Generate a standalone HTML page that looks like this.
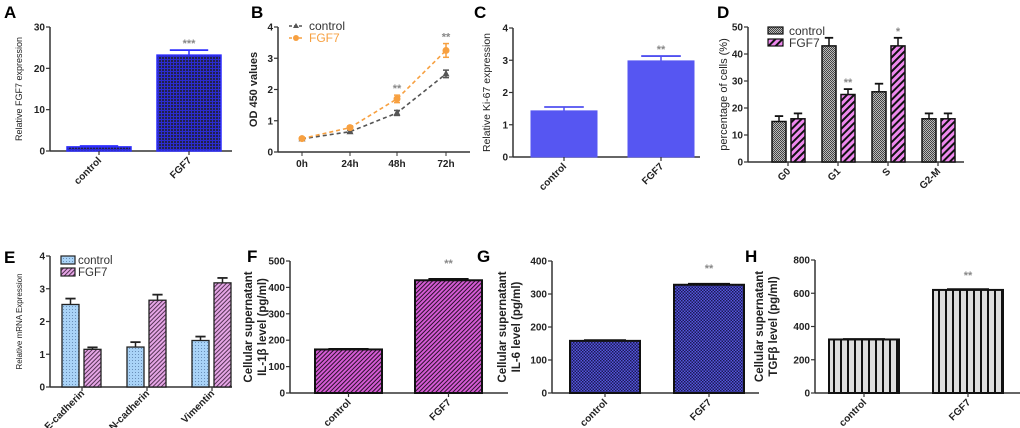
<!DOCTYPE html>
<html><head><meta charset="utf-8">
<style>
body{margin:0;background:#fff;}
svg{display:block;font-family:"Liberation Sans",Arial,sans-serif;}
.tk{font-size:10px;font-weight:bold;fill:#222;}
.pl{font-size:17px;font-weight:bold;fill:#000;}
</style></head>
<body>
<svg id="fig" width="1020" height="428" viewBox="0 0 1020 428">
<defs>
<pattern id="pA" width="3" height="3" patternUnits="userSpaceOnUse"><rect width="3" height="3" fill="#2b2bd0"/><rect width="2" height="2" fill="#22224a"/></pattern>
<pattern id="pDc" width="2" height="2" patternUnits="userSpaceOnUse"><rect width="2" height="2" fill="#bbb"/><rect width="1" height="1" fill="#444"/><rect x="1" y="1" width="1" height="1" fill="#444"/></pattern>
<pattern id="pDf" width="5" height="5" patternUnits="userSpaceOnUse" patternTransform="rotate(45)"><rect width="5" height="5" fill="#ee88ee"/><rect width="2" height="5" fill="#111"/></pattern>
<pattern id="pEc" width="3" height="3" patternUnits="userSpaceOnUse"><rect width="3" height="3" fill="#a9d3f7"/><rect width="1" height="1" fill="#6a8fb8"/></pattern>
<pattern id="pEf" width="3" height="3" patternUnits="userSpaceOnUse" patternTransform="rotate(45)"><rect width="3" height="3" fill="#e6a6e6"/><rect width="1" height="3" fill="#553355"/></pattern>
<pattern id="pF" width="3" height="3" patternUnits="userSpaceOnUse" patternTransform="rotate(45)"><rect width="3" height="3" fill="#d45ad4"/><rect width="1" height="3" fill="#2a102a"/></pattern>
<pattern id="pG" width="3" height="3" patternUnits="userSpaceOnUse"><rect width="3" height="3" fill="#5555dd"/><rect width="1.5" height="1.5" fill="#1a1a55"/><rect x="1.5" y="1.5" width="1.5" height="1.5" fill="#1a1a55"/></pattern>
<pattern id="pH" width="7" height="7" patternUnits="userSpaceOnUse"><rect width="7" height="7" fill="#ddd"/><rect width="2" height="7" fill="#111"/></pattern>
</defs>
</svg>
<script>
// ---- data ----
const aCats=["control","FGF7"], aVals=[1.0,23.2], aErr=[0.2,1.2];
const bCats=["0h","24h","48h","72h"], bCtrl=[0.42,0.65,1.25,2.5], bFgf=[0.43,0.78,1.7,3.25], bCtrlErr=[0.03,0.05,0.08,0.12], bFgfErr=[0.03,0.05,0.12,0.22];
const cCats=["control","FGF7"], cVals=[1.43,2.98], cErr=[0.12,0.15];
const dCats=["G0","G1","S","G2-M"], dCtrl=[15,43,26,16], dFgf=[16,25,43,16], dCtrlErr=[2,3,3,2], dFgfErr=[2,2,3,2];
const eCats=["E-cadherin","N-cadherin","Vimentin"], eCtrl=[2.52,1.22,1.42], eFgf=[1.15,2.65,3.18], eCtrlErr=[0.18,0.15,0.12], eFgfErr=[0.06,0.17,0.15];
const fCats=["control","FGF7"], fVals=[165,427], fErr=[2,5];
const gCats=["control","FGF7"], gVals=[158,328], gErr=[2,3];
const hCats=["control","FGF7"], hVals=[322,620], hErr=[3,5];
const ticksA=[0,10,20,30], ticksB=[0,1,2,3,4], ticksC=[0,1,2,3,4], ticksD=[0,10,20,30,40,50], ticksE=[0,1,2,3,4], ticksF=[0,100,200,300,400,500], ticksG=[0,100,200,300,400], ticksH=[0,200,400,600,800];

const svg=document.getElementById('fig');
const NS="http://www.w3.org/2000/svg";
function mk(tag,at,par){const e=document.createElementNS(NS,tag);for(const k in at)e.setAttribute(k,at[k]);(par||svg).appendChild(e);return e;}
function txt(s,at,par){const e=mk('text',at,par);e.textContent=s;return e;}

function axes(g,x0,x1,y0,y1,max,ticks,ylab,ylabX,labSize,labBold){
  const sy=v=>y0-(v/max)*(y0-y1);
  let e=mk('line',{x1:x0,y1:y1,x2:x0,y2:y0,stroke:'#333','stroke-width':1.5},g);
  
  
  e=mk('line',{x1:x0,y1:y0,x2:x1,y2:y0,stroke:'#333','stroke-width':1.5},g);
  
  
  ticks.forEach(t=>{
    mk('line',{x1:x0-4,x2:x0,y1:sy(t),y2:sy(t),stroke:'#333','stroke-width':1.2},g);
    const l=txt(String(t),{x:x0-5,y:sy(t)+3.5,'text-anchor':'end',class:'tk'},g);
    
    
  });
  const cy=(y0+y1)/2;
  ylab.forEach((s,i)=>{
    const l=txt(s,{x:ylabX[i],y:cy,'text-anchor':'middle',transform:`rotate(-90 ${ylabX[i]} ${cy})`,'font-size':labSize,'font-weight':labBold?'bold':'normal',fill:'#222'},g);
    
    
  });
  return sy;
}
function xlab(g,s,cx,y0,size,dy){
  const d=dy||10;
  const l=txt(s,{x:cx+3,y:y0+d,'text-anchor':'end',transform:`rotate(-45 ${cx+3} ${y0+d})`,class:'tk','font-size':size||10},g);
  
  
  mk('line',{x1:cx,x2:cx,y1:y0,y2:y0+4,stroke:'#333','stroke-width':1.2},g);
}
function bar(g,x,w,sy,v,err,fill,stroke,sw,name,ecol){
  const ey=sy(v+err);
  mk('line',{x1:x+w/2,x2:x+w/2,y1:ey,y2:sy(v),stroke:ecol||stroke,'stroke-width':1.5},g);
  mk('line',{x1:x+w/2-w*0.3,x2:x+w/2+w*0.3,y1:ey,y2:ey,stroke:ecol||stroke,'stroke-width':1.8},g);
  const r=mk('rect',{x:x,y:sy(v),width:w,height:sy(0)-sy(v),fill:fill,stroke:stroke,'stroke-width':sw},g);
  
  
}
function star(g,s,x,y){const t=txt(s,{x:x,y:y,'text-anchor':'middle','font-size':11,fill:'#888','font-weight':'bold'},g);
  
  }
function plabel(s,x,y){const t=txt(s,{x:x,y:y,class:'pl'});
  
  }
function panel(name){const g=mk('g',{});return g;}

// A
(function(){const g=panel('panel-a-fgf7-expression');
 const sy=axes(g,50,232,151,27,30,ticksA,["Relative FGF7 expression"],[22],9,false);
 const xs=[67,157],w=64;
 aCats.forEach((c,i)=>{bar(g,xs[i],w,sy,aVals[i],aErr[i],'url(#pA)','#2f2fff',1.5,'bar-'+c,'#2f2fff');xlab(g,c,xs[i]+w/2,151);});
 star(g,'***',xs[1]+w/2,sy(aVals[1]+aErr[1])-3);
 plabel('A',4,18);})();

// B
(function(){const g=panel('panel-b-od450-line');
 const sy=axes(g,278,470,152,27,4,ticksB,["OD 450 values"],[257],11,true);
 const xs=[302,350,397,446];
 bCats.forEach((c,i)=>{const l=txt(c,{x:xs[i],y:167,'text-anchor':'middle',class:'tk'},g);mk('line',{x1:xs[i],x2:xs[i],y1:152,y2:156,stroke:'#333'},g);});
 function series(vals,errs,col,marker,nm){
  const p=mk('polyline',{points:vals.map((v,i)=>xs[i]+','+sy(v)).join(' '),fill:'none',stroke:col,'stroke-width':1.6,'stroke-dasharray':'4,3'},g);
  
  
  vals.forEach((v,i)=>{
   mk('line',{x1:xs[i],x2:xs[i],y1:sy(v+errs[i]),y2:sy(v-errs[i]),stroke:col,'stroke-width':1.5},g);
   mk('line',{x1:xs[i]-3,x2:xs[i]+3,y1:sy(v+errs[i]),y2:sy(v+errs[i]),stroke:col,'stroke-width':1.5},g);
   mk('line',{x1:xs[i]-3,x2:xs[i]+3,y1:sy(v-errs[i]),y2:sy(v-errs[i]),stroke:col,'stroke-width':1.5},g);
   let m;
   if(marker==='c')m=mk('circle',{cx:xs[i],cy:sy(v),r:3.5,fill:col},g);
   else m=mk('polygon',{points:`${xs[i]},${sy(v)-4} ${xs[i]-3.5},${sy(v)+2.5} ${xs[i]+3.5},${sy(v)+2.5}`,fill:col},g);
   
   
  });}
 series(bCtrl,bCtrlErr,'#555','t','control');
 series(bFgf,bFgfErr,'#f7a040','c','fgf7');
 star(g,'**',xs[2],sy(bFgf[2]+bFgfErr[2])-3);star(g,'**',xs[3],sy(bFgf[3]+bFgfErr[3])-3);
 const lg=mk('g',{},g);
 mk('line',{x1:289,x2:303,y1:26,y2:26,stroke:'#555','stroke-width':1.5,'stroke-dasharray':'3,2'},lg);
 mk('polygon',{points:'296,23 293,28 299,28',fill:'#555'},lg);
 txt('control',{x:309,y:30,'font-size':12,fill:'#333'},lg);
 mk('line',{x1:289,x2:303,y1:38,y2:38,stroke:'#f7a040','stroke-width':1.5,'stroke-dasharray':'3,2'},lg);
 mk('circle',{cx:296,cy:38,r:3,fill:'#f7a040'},lg);
 txt('FGF7',{x:309,y:42,'font-size':12,fill:'#f7a040'},lg);
 plabel('B',251,18);})();

// C
(function(){const g=panel('panel-c-ki67');
 const sy=axes(g,513,700,157,28,4,ticksC,["Relative Ki-67 expression"],[490],10.5,false);
 const xs=[531,628],w=66;
 cCats.forEach((c,i)=>{bar(g,xs[i],w,sy,cVals[i],cErr[i],'#5656f2','#5656f2',1,'bar-'+c,'#5050f0');xlab(g,c,xs[i]+w/2,157);});
 star(g,'**',xs[1]+w/2,sy(cVals[1]+cErr[1])-3);
 plabel('C',474,18);})();

// D
(function(){const g=panel('panel-d-cell-cycle');
 const sy=axes(g,748,964,162,27,50,ticksD,["percentage of cells (%)"],[727],11,false);
 const xs=[772,822,872,922],w=14,gap=19;
 dCats.forEach((c,i)=>{
  bar(g,xs[i],w,sy,dCtrl[i],dCtrlErr[i],'url(#pDc)','#111',1.5,'bar-control-'+c,'#111');
  bar(g,xs[i]+gap,w,sy,dFgf[i],dFgfErr[i],'url(#pDf)','#111',1.5,'bar-fgf7-'+c,'#111');
  xlab(g,c,xs[i]+16,162);});
 star(g,'**',xs[1]+gap+w/2,sy(dFgf[1]+dFgfErr[1])-3);
 star(g,'*',xs[2]+gap+w/2,sy(dFgf[2]+dFgfErr[2])-3);
 const lg=mk('g',{},g);
 mk('rect',{x:768,y:27,width:15,height:7,fill:'url(#pDc)',stroke:'#111','stroke-width':1.2},lg);
 txt('control',{x:789,y:35,'font-size':12,fill:'#333'},lg);
 mk('rect',{x:768,y:39,width:15,height:7,fill:'url(#pDf)',stroke:'#111','stroke-width':1.2},lg);
 txt('FGF7',{x:789,y:47,'font-size':12,fill:'#333'},lg);
 plabel('D',717,18);})();

// E
(function(){const g=panel('panel-e-mrna');
 const sy=axes(g,50,232,387,256,4,ticksE,["Relative mRNA Expression"],[22],8,false);
 const xs=[62,127,192],w=17,gap=22;
 eCats.forEach((c,i)=>{
  bar(g,xs[i],w,sy,eCtrl[i],eCtrlErr[i],'url(#pEc)','#222',1.3,'bar-control-'+c,'#222');
  bar(g,xs[i]+gap,w,sy,eFgf[i],eFgfErr[i],'url(#pEf)','#222',1.3,'bar-fgf7-'+c,'#222');
  xlab(g,c,xs[i]+20,387,7,7);});
 const lg=mk('g',{},g);
 mk('rect',{x:61,y:256,width:14,height:8,fill:'url(#pEc)',stroke:'#222','stroke-width':1.2},lg);
 txt('control',{x:78,y:264,'font-size':11.5,fill:'#333'},lg);
 mk('rect',{x:61,y:268,width:14,height:8,fill:'url(#pEf)',stroke:'#222','stroke-width':1.2},lg);
 txt('FGF7',{x:78,y:276,'font-size':11.5,fill:'#333'},lg);
 plabel('E',4,263);})();

// F
(function(){const g=panel('panel-f-il1b');
 const sy=axes(g,290,508,393,261,500,ticksF,["Cellular supernatant","IL-1β level (pg/ml)"],[252,266],11.5,true);
 const xs=[315,415],w=67;
 fCats.forEach((c,i)=>{bar(g,xs[i],w,sy,fVals[i],fErr[i],'url(#pF)','#111',2,'bar-'+c,'#111');xlab(g,c,xs[i]+w/2,393);});
 star(g,'**',xs[1]+w/2,sy(fVals[1]+fErr[1])-12);
 plabel('F',247,262);})();

// G
(function(){const g=panel('panel-g-il6');
 const sy=axes(g,552,759,393,261,400,ticksG,["Cellular supernatant","IL-6 level (pg/ml)"],[506,520],11.5,true);
 const xs=[570,674],w=70;
 gCats.forEach((c,i)=>{bar(g,xs[i],w,sy,gVals[i],gErr[i],'url(#pG)','#111',2,'bar-'+c,'#111');xlab(g,c,xs[i]+w/2,393);});
 star(g,'**',xs[1]+w/2,sy(gVals[1]+gErr[1])-12);
 plabel('G',477,262);})();

// H
(function(){const g=panel('panel-h-tgfb');
 const sy=axes(g,815,1020,393,260,800,ticksH,["Cellular supernatant","TGFβ level (pg/ml)"],[763,777],11.5,true);
 const xs=[829,933],w=70;
 hCats.forEach((c,i)=>{bar(g,xs[i],w,sy,hVals[i],hErr[i],'url(#pH)','#111',2,'bar-'+c,'#111');xlab(g,c,xs[i]+w/2,393);});
 star(g,'**',xs[1]+w/2,sy(hVals[1]+hErr[1])-10);
 plabel('H',745,262);})();
</script>
</body></html>
